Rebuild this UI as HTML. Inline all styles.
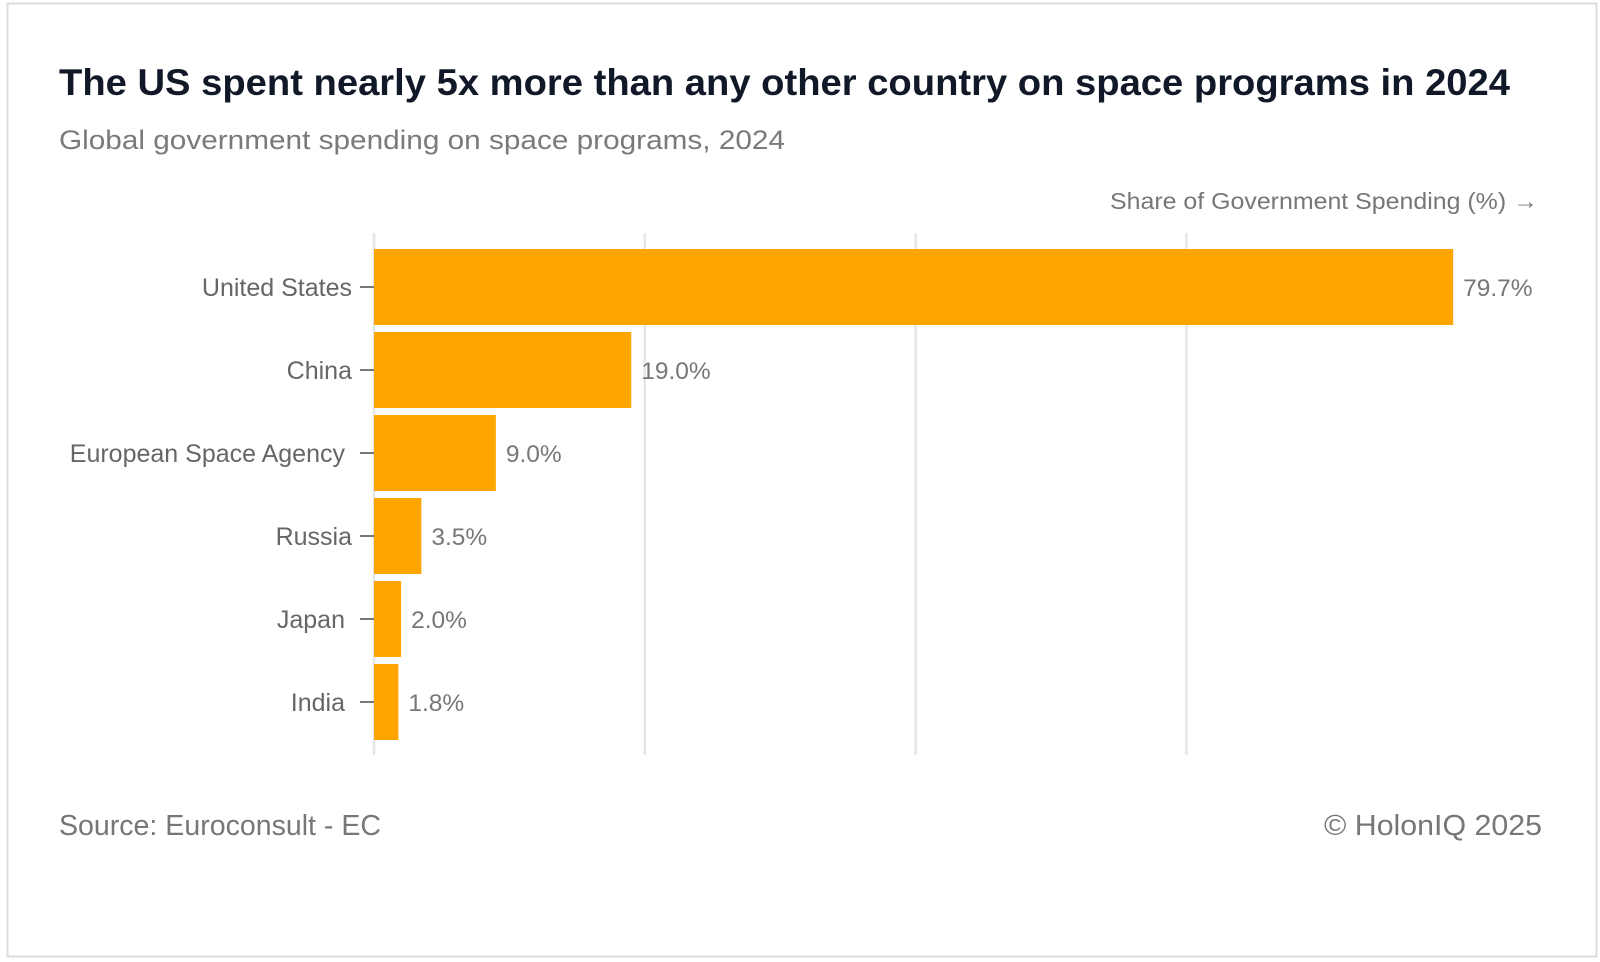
<!DOCTYPE html>
<html><head><meta charset="utf-8"><style>
html,body{margin:0;padding:0;background:#fff;}
svg{display:block;font-family:"Liberation Sans",sans-serif;}
</style></head><body>
<svg id="chart" width="1600" height="962" viewBox="0 0 1600 962">
<rect x="7.5" y="3.5" width="1589" height="953" fill="#fff" stroke="#dcdcdc" stroke-width="2"/>
<text x="59" y="95" font-size="37" font-weight="bold" fill="#111827" textLength="1451" lengthAdjust="spacingAndGlyphs">The US spent nearly 5x more than any other country on space programs in 2024</text>
<text x="59" y="149" font-size="27" fill="#7a7a7a" textLength="726" lengthAdjust="spacingAndGlyphs">Global government spending on space programs, 2024</text>
<text x="1538" y="209" font-size="23" fill="#777" text-anchor="end" textLength="428" lengthAdjust="spacingAndGlyphs">Share of Government Spending (%) →</text>
<g id="grid"></g>
<g id="bars"></g>
<g id="labels"></g>
<text x="59" y="835" font-size="29" fill="#777" textLength="322" lengthAdjust="spacingAndGlyphs">Source: Euroconsult - EC</text>
<text x="1542" y="835" font-size="29" fill="#777" text-anchor="end" textLength="218" lengthAdjust="spacingAndGlyphs">© HolonIQ 2025</text>
</svg>
<script>
const categories = ["United States","China","European Space Agency","Russia","Japan","India"];
const values = [79.7,19.0,9.0,3.5,2.0,1.8];
const valueLabels = ["79.7%","19.0%","9.0%","3.5%","2.0%","1.8%"];
const gridTicks = [0,20,40,60];

const NS="http://www.w3.org/2000/svg";
const x0=374, pxPerUnit=13.54;
function xScale(v){return x0+v*pxPerUnit;}
const top0=249, step=83, barH=76;
function yBand(i){return top0+i*step;}
function mk(tag,attrs,parent){const e=document.createElementNS(NS,tag);for(const k in attrs)e.setAttribute(k,attrs[k]);parent.appendChild(e);return e;}

const grid=document.getElementById('grid');
gridTicks.forEach(t=>{
  const l=mk('line',{x1:xScale(t),x2:xScale(t),y1:233,y2:755,stroke:'#e6e6e6','stroke-width':2.5},grid);
  
  
});
const bars=document.getElementById('bars'), labels=document.getElementById('labels');
categories.forEach((c,i)=>{
  const y=yBand(i), cy=y+barH/2;
  const r=mk('rect',{x:x0,y:y,width:xScale(values[i])-x0,height:barH,fill:'#FFA500'},bars);
  
  
  const tk=mk('line',{x1:360,x2:374,y1:cy,y2:cy,stroke:'#777','stroke-width':2},labels);
  
  
  const lt=mk('text',{x:(c.length>6&&c!=="United States")||c==="Japan"||c==="India"?345:352,y:cy+9,'font-size':25,fill:'#666','text-anchor':'end'},labels);
  lt.textContent=c;
  
  
  const vt=mk('text',{x:xScale(values[i])+10,y:cy+9,'font-size':24.5,fill:'#777'},labels);
  vt.textContent=valueLabels[i];
  
  
});
</script>
</body></html>
